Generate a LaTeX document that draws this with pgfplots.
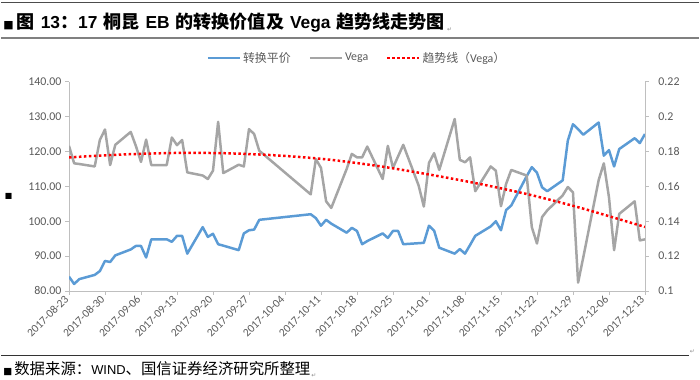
\documentclass[border=0pt]{standalone}
\usepackage{fontspec}
\usepackage{pgfplots}
\pgfplotsset{compat=1.18}
\setmainfont{Carlito}
\newfontfamily\cjk{Noto Sans CJK SC}
\newfontfamily\song{Noto Sans CJK SC}
\newfontfamily\arial{Liberation Sans}
\newfontfamily\dejavu{DejaVu Sans}
\definecolor{cblue}{RGB}{91,155,213}
\definecolor{cgray}{RGB}{165,165,165}
\definecolor{cred}{RGB}{255,0,0}
\definecolor{axgray}{RGB}{191,191,191}
\definecolor{lbl}{RGB}{89,89,89}
\newcommand\tz{\song\bfseries\fontsize{18.2}{20}\selectfont}
\newcommand\ta{\arial\bfseries\fontsize{17.5}{20}\selectfont}
\newcommand\pmark{{\dejavu\fontsize{6}{7}\selectfont\color{black!45}↵}}
\begin{document}
\begin{tikzpicture}
\path (0bp,0bp) rectangle (700bp,381bp);
\draw[line width=1bp, black!70] (0bp,378.5bp) -- (700bp,378.5bp);
\node[anchor=west, inner sep=0] at (2bp,358.3bp) {{\dejavu\fontsize{11}{12}\selectfont ■}\hspace{3bp}{\tz 图}\hspace{6bp}{\ta 13}{\tz ：}{\ta 17}\hspace{6bp}{\tz 桐昆}\hspace{6bp}{\ta EB}\hspace{6bp}{\tz 的转换价值及}\hspace{6bp}{\ta Vega}\hspace{6bp}{\tz 趋势线走势图}\hspace{2bp}\raisebox{-3bp}{\pmark}};
\draw[line width=2.5bp, black!50] (0bp,343bp) -- (700bp,343bp);
\node[inner sep=0] at (7.5bp,184bp) {\dejavu\fontsize{8}{9}\selectfont ■};
\draw[line width=1bp, black!80] (0bp,24bp) -- (690bp,24bp);
\node[anchor=west, inner sep=0] at (691bp,28bp) {\pmark};
\node[anchor=west, inner sep=0] at (2bp,10bp) {{\dejavu\fontsize{9.5}{10}\selectfont ■}\hspace{2bp}{\song\fontsize{15.5}{17}\selectfont 数据来源：}{\arial\fontsize{13}{15}\selectfont WIND}{\song\fontsize{15.5}{17}\selectfont 、国信证券经济研究所整理}\hspace{1bp}\raisebox{-3bp}{\pmark}};

\begin{axis}[
  at={(68bp,89bp)}, anchor=south west, scale only axis,
  width=578bp, height=210bp,
  xmin=0, xmax=112, ymin=80, ymax=140,
  axis x line*=bottom, axis y line*=left,
  axis line style={axgray, line width=0.75bp},
  every tick/.style={axgray, line width=0.75bp},
  major tick length=4bp, tick align=outside,
  xtick={0,7,...,112},
  xticklabels={2017-08-23,2017-08-30,2017-09-06,2017-09-13,2017-09-20,2017-09-27,2017-10-04,2017-10-11,2017-10-18,2017-10-25,2017-11-01,2017-11-08,2017-11-15,2017-11-22,2017-11-29,2017-12-06,2017-12-13},
  xticklabel style={rotate=45, anchor=east, font=\fontsize{11.5}{12}\selectfont, text=lbl},
  ytick={80,90,100,110,120,130,140},
  yticklabels={80.00,90.00,100.00,110.00,120.00,130.00,140.00},
  yticklabel style={font=\fontsize{12}{13}\selectfont, text=lbl},
  legend style={draw=none, fill=none, at={(0.5,1)}, anchor=center, yshift=24bp,
    legend columns=3, font=\fontsize{12}{13}\selectfont, text=lbl,
    /tikz/every even column/.append style={column sep=16bp}},
  legend image code/.code={\draw[#1] (0bp,0bp) -- (32bp,0bp);},
]
\addplot[cblue, line width=2.5bp, line join=round] coordinates {
(0,84.1)(1,82.0)(2,83.4)(5,84.6)(6,85.7)(7,88.6)(8,88.3)(9,90.2)(12,91.9)(13,92.9)(14,92.9)(15,89.6)(16,94.8)(19,94.8)(20,94.1)(21,95.8)(22,95.8)(23,90.7)(26,98.3)(27,95.5)(28,96.4)(29,93.4)(30,93.0)(33,91.7)(34,96.5)(35,97.4)(36,97.6)(37,100.4)(47,102.0)(48,100.9)(49,98.7)(50,100.4)(51,99.3)(54,96.7)(55,98.1)(56,97.2)(57,93.4)(58,94.3)(61,96.5)(62,95.2)(63,97.2)(64,97.2)(65,93.4)(68,93.7)(69,93.8)(70,98.7)(71,97.3)(72,92.4)(75,90.7)(76,92.0)(77,90.7)(78,93.2)(79,95.8)(82,98.5)(83,100.0)(84,97.4)(85,103.2)(86,104.5)(89,112.9)(90,115.5)(91,113.9)(92,109.7)(93,108.6)(96,111.7)(97,123.1)(98,127.8)(99,126.4)(100,124.8)(103,128.3)(104,118.8)(105,120.4)(106,115.7)(107,120.7)(110,123.8)(111,122.4)(112,125.0)
};
\addlegendentry{\cjk 转换平价}
\addlegendimage{cgray, line width=2.5bp}
\addlegendentry{Vega}
\addlegendimage{cred, line width=2.5bp, dash pattern=on 2.5bp off 2.5bp}
\addlegendentry{{\cjk 趋势线（}Vega{\cjk ）}}
\end{axis}

\begin{axis}[
  at={(68bp,89bp)}, anchor=south west, scale only axis,
  width=578bp, height=210bp,
  xmin=0, xmax=112, ymin=0.1, ymax=0.22,
  axis y line*=right, axis x line=none,
  axis line style={axgray, line width=0.75bp},
  every tick/.style={axgray, line width=0.75bp},
  major tick length=4bp, tick align=outside,
  ytick={0.1,0.12,0.14,0.16,0.18,0.2,0.22},
  yticklabels={0.1,0.12,0.14,0.16,0.18,0.2,0.22},
  yticklabel style={font=\fontsize{12}{13}\selectfont, text=lbl, xshift=6bp},
]
\addplot[cgray, line width=2.5bp, line join=round] coordinates {
(0,0.1832)(1,0.1732)(2,0.1728)(5,0.1714)(6,0.1866)(7,0.1926)(8,0.1722)(9,0.1838)(12,0.1912)(13,0.1832)(14,0.1740)(15,0.1868)(16,0.1722)(19,0.1722)(20,0.1880)(21,0.1836)(22,0.1866)(23,0.1680)(26,0.1662)(27,0.1642)(28,0.1690)(29,0.1970)(30,0.1676)(33,0.1724)(34,0.1714)(35,0.1928)(36,0.1900)(37,0.1804)(47,0.1554)(48,0.1756)(49,0.1706)(50,0.1514)(51,0.1476)(54,0.1700)(55,0.1786)(56,0.1766)(57,0.1766)(58,0.1828)(61,0.1642)(62,0.1832)(63,0.1706)(64,0.1772)(65,0.1838)(68,0.1604)(69,0.1484)(70,0.1734)(71,0.1790)(72,0.1694)(75,0.1986)(76,0.1752)(77,0.1738)(78,0.1766)(79,0.1572)(82,0.1714)(83,0.1690)(84,0.1486)(85,0.1614)(86,0.1694)(89,0.1662)(90,0.1366)(91,0.1272)(92,0.1424)(93,0.1462)(96,0.1548)(97,0.1596)(98,0.1566)(99,0.1048)(100,0.1192)(103,0.1636)(104,0.1732)(105,0.1538)(106,0.1234)(107,0.1442)(110,0.1514)(111,0.1290)(112,0.1296)
};
\addplot[cred, line width=2.5bp, dash pattern=on 2.5bp off 2.5bp, smooth] coordinates {
(0,0.1766)(10,0.1782)(20,0.1791)(30,0.1790)(40,0.1778)(50,0.1755)(60,0.1717)(70,0.1668)(80,0.1613)(90,0.1549)(100,0.1472)(112,0.1367)
};
\end{axis}
\end{tikzpicture}
\end{document}
